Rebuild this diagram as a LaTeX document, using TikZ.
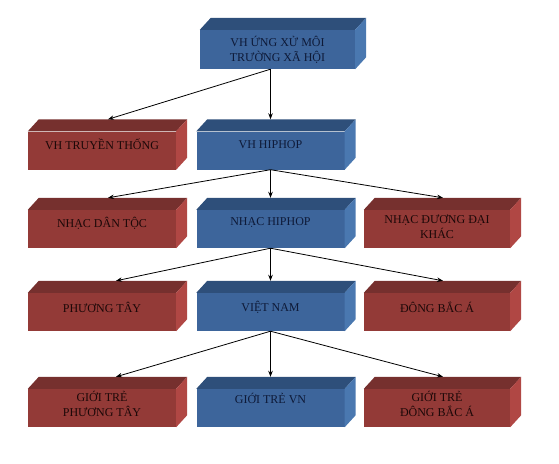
\documentclass[tikz,border=0pt]{standalone}
\usepackage{fontspec}
\setmainfont{Liberation Serif}
\usetikzlibrary{arrows.meta,calc}
\definecolor{bfront}{HTML}{3D659B}
\definecolor{btop}{HTML}{2E4F7A}
\definecolor{bright}{HTML}{4A78B0}
\definecolor{rfront}{HTML}{933A37}
\definecolor{rtop}{HTML}{76302E}
\definecolor{rright}{HTML}{B04744}
\definecolor{btext}{HTML}{0E1A38}
\definecolor{rtext}{HTML}{1C0808}
\tikzset{
  boxbase/.style={minimum width=148pt, minimum height=38pt, inner sep=0pt},
  bluebox/.style={boxbase, fill=bfront},
  redbox/.style={boxbase, fill=rfront},
  lbl/.style={inner sep=0pt, align=center, font=\fontsize{12}{15}\selectfont},
  bluelbl/.style={lbl, text=btext},
  redlbl/.style={lbl, text=rtext},
  conn/.style={draw=black, line width=0.8pt, -{Stealth[length=6pt,width=4.5pt]}}
}
\newcommand{\faces}[3]{% name, topcolor, rightcolor
  \fill[#2] (#1.north west) -- ++(11,-12) -- ($(#1.north east)+(11,-12)$) -- (#1.north east) -- cycle;
  \fill[#3] (#1.north east) -- ++(11,-12) -- ($(#1.south east)+(11,-12)$) -- (#1.south east) -- cycle;
  \coordinate (#1t) at ($(#1.north)+(6,-12)$);
}
\begin{document}
\begin{tikzpicture}[x=1pt,y=-1pt]
\useasboundingbox (0,0) rectangle (559,463);
% boxes
\node[bluebox, minimum width=155pt, minimum height=39pt] (root) at (277.5,49.5) {};
\faces{root}{btop}{bright}
\node[bluelbl] (rootl) at (root.center) {VH ỨNG XỬ MÔI\\TRƯỜNG XÃ HỘI};
\node[redbox] (vhtt) at (102,150.5) {};
\faces{vhtt}{rtop}{rright}
\node[redlbl] (vhttl) at ($(vhtt.center)+(0,-6)$) {VH TRUYỀN THỐNG};
\node[bluebox] (vhhh) at (270.5,150.5) {};
\faces{vhhh}{btop}{bright}
\node[bluelbl] (vhhhl) at ($(vhhh.center)+(0,-6)$) {VH HIPHOP};
\node[redbox] (ndt) at (102,229) {};
\faces{ndt}{rtop}{rright}
\node[redlbl] (ndtl) at ($(ndt.center)+(0,-6)$) {NHẠC DÂN TỘC};
\node[bluebox] (nhh) at (270.5,229) {};
\faces{nhh}{btop}{bright}
\node[bluelbl] (nhhl) at ($(nhh.center)+(0,-6)$) {NHẠC HIPHOP};
\node[redbox, minimum width=146pt] (ndd) at (437,229) {};
\faces{ndd}{rtop}{rright}
\node[redlbl] (nddl) at ($(ndd.center)+(0,-2)$) {NHẠC ĐƯƠNG ĐẠI\\KHÁC};
\node[redbox] (pt) at (102,312) {};
\faces{pt}{rtop}{rright}
\node[redlbl] (ptl) at ($(pt.center)+(0,-5)$) {PHƯƠNG TÂY};
\node[bluebox] (vn) at (270.5,312) {};
\faces{vn}{btop}{bright}
\node[bluelbl] (vnl) at ($(vn.center)+(0,-5)$) {VIỆT NAM};
\node[redbox, minimum width=146pt] (dba) at (437,312) {};
\faces{dba}{rtop}{rright}
\node[redlbl] (dbal) at ($(dba.center)+(0,-5)$) {ĐÔNG BẮC Á};
\node[redbox] (gtpt) at (102,408) {};
\faces{gtpt}{rtop}{rright}
\node[redlbl] (gtptl) at ($(gtpt.center)+(0,-4)$) {GIỚI TRẺ\\PHƯƠNG TÂY};
\node[bluebox] (gtvn) at (270.5,408) {};
\faces{gtvn}{btop}{bright}
\node[bluelbl] (gtvnl) at ($(gtvn.center)+(0,-10)$) {GIỚI TRẺ VN};
\node[redbox, minimum width=146pt] (gtdba) at (437,408) {};
\faces{gtdba}{rtop}{rright}
\node[redlbl] (gtdbal) at ($(gtdba.center)+(0,-4)$) {GIỚI TRẺ\\ĐÔNG BẮC Á};
% connectors
\coordinate (rs) at (vhhh.north |- root.south);
\draw[conn] (rs) -- (vhttt);
\draw[conn] (rs) -- (rs |- vhhht);
\draw[conn] (vhhh.south) -- (ndtt);
\draw[conn] (vhhh.south) -- (vhhh.south |- nhht);
\draw[conn] (vhhh.south) -- (nddt);
\draw[conn] (nhh.south) -- ($(ptt)+(8,0)$);
\draw[conn] (nhh.south) -- (nhh.south |- vnt);
\draw[conn] (nhh.south) -- (dbat);
\draw[conn] (vn.south) -- ($(gtptt)+(8,0)$);
\draw[conn] (vn.south) -- (vn.south |- gtvnt);
\draw[conn] (vn.south) -- (gtdbat);
\end{tikzpicture}
\end{document}
